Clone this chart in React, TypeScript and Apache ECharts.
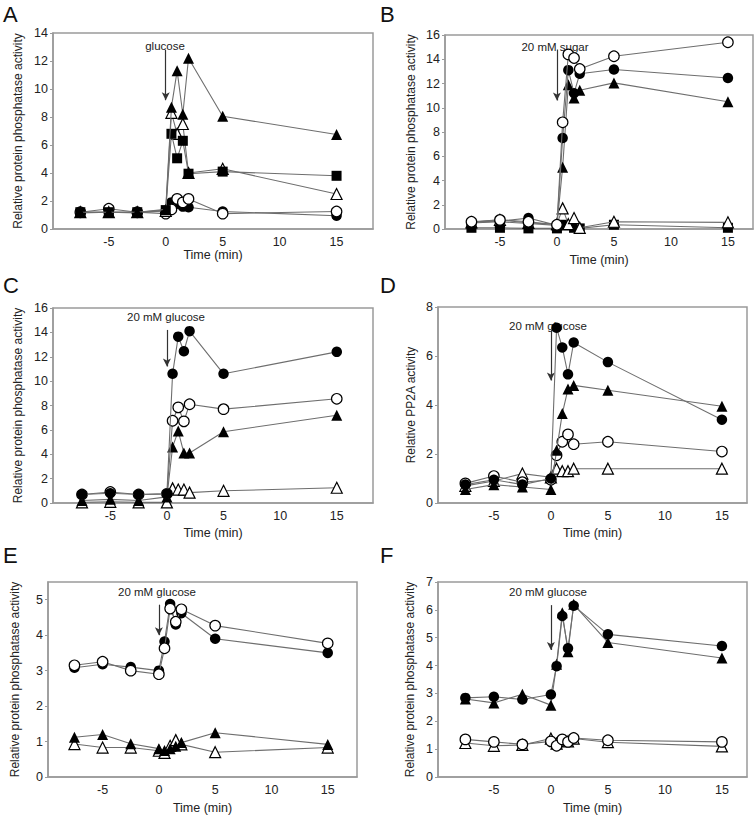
import React, { useEffect, useRef } from "react";
import * as echarts from "echarts";

// ---- data ----
const times = [-7.5, -5, -2.5, 0, 0.5, 1, 1.5, 2, 5, 15];
const xTickValues = [-5, 0, 5, 10, 15];

// Panel A
const aFilledTri = [1.2, 1.2, 1.2, 1.4, 8.7, 11.3, 8.2, 12.2, 8.05, 6.75];
const aOpenTri = [1.2, 1.2, 1.2, 1.3, 8.3, 6.8, 7.5, 4.0, 4.3, 2.5];
const aSquare = [1.2, 1.2, 1.2, 1.35, 6.8, 5.05, 6.3, 3.95, 4.1, 3.8];
const aOpenCircle = [1.2, 1.45, 1.2, 1.1, 1.4, 2.15, 1.9, 2.15, 1.1, 1.25];
const aFilledCircle = [1.15, 1.2, 1.15, 1.3, 1.9, 1.8, 1.6, 1.55, 1.25, 0.95];
const aYTicks = [0, 2, 4, 6, 8, 10, 12, 14];

// Panel B
const bOpenCircle = [0.6, 0.75, 0.6, 0.35, 8.8, 14.4, 14.1, 13.2, 14.25, 15.4];
const bFilledCircle = [0.55, 0.65, 0.9, 0.3, 7.5, 13.1, 11.2, 12.8, 13.15, 12.45];
const bFilledTri = [0.5, 0.6, 0.45, 0.3, 5.1, 11.9, 10.8, 11.45, 12.05, 10.5];
const bOpenTri = [0.55, 0.75, 0.5, 0.4, 1.7, 0.4, 0.9, 0.1, 0.6, 0.55];
const bSquare = [0.1, 0.1, 0.05, 0.05, 0.35, 0.3, 0.1, 0.05, 0.35, 0.1];
const bYTicks = [0, 2, 4, 6, 8, 10, 12, 14, 16];

// Panel C
const cFilledCircle = [0.7, 0.8, 0.7, 0.75, 10.6, 13.65, 12.45, 14.1, 10.6, 12.4];
const cOpenCircle = [0.7, 0.9, 0.7, 0.75, 6.75, 7.85, 6.7, 8.1, 7.7, 8.55];
const cFilledTri = [0.2, 0.3, 0.2, 0.5, 4.6, 5.9, 4.1, 4.1, 5.85, 7.2];
const cOpenTri = [0.05, 0.1, 0.05, 0.05, 1.2, 1.1, 1.1, 0.85, 1.0, 1.25];
const cYTicks = [0, 2, 4, 6, 8, 10, 12, 14, 16];

// Panel D
const dFilledCircle = [0.75, 0.95, 0.75, 1.0, 7.15, 6.35, 5.25, 6.55, 5.75, 3.4];
const dFilledTri = [0.55, 0.75, 0.65, 0.55, 2.15, 3.65, 4.65, 4.8, 4.6, 3.95];
const dOpenCircle = [0.8, 1.1, 0.85, 0.95, 1.95, 2.5, 2.8, 2.4, 2.5, 2.1];
const dOpenTri = [0.7, 0.9, 1.2, 1.05, 1.4, 1.3, 1.3, 1.4, 1.4, 1.4];
const dYTicks = [0, 2, 4, 6, 8];

// Panel E
const eFilledCircle = [3.08, 3.18, 3.1, 3.0, 3.82, 4.88, 4.3, 4.62, 3.9, 3.5];
const eOpenCircle = [3.15, 3.25, 3.0, 2.9, 3.63, 4.75, 4.38, 4.73, 4.27, 3.77];
const eFilledTri = [1.12, 1.2, 0.94, 0.8, 0.75, 0.8, 0.87, 0.97, 1.25, 0.92];
const eOpenTri = [0.93, 0.83, 0.83, 0.74, 0.68, 0.88, 1.04, 0.92, 0.7, 0.83];
const eYTicks = [0, 1, 2, 3, 4, 5];

// Panel F
const fFilledCircle = [2.84, 2.88, 2.78, 2.96, 3.98, 5.78, 4.62, 6.15, 5.12, 4.7];
const fFilledTri = [2.8, 2.66, 2.97, 2.58, 4.05, 5.9, 4.5, 6.2, 4.83, 4.27];
const fOpenCircle = [1.35, 1.26, 1.17, 1.28, 1.12, 1.35, 1.26, 1.4, 1.32, 1.26];
const fOpenTri = [1.22, 1.12, 1.15, 1.38, 1.2, 1.3, 1.28, 1.38, 1.25, 1.1];
const fYTicks = [0, 1, 2, 3, 4, 5, 6, 7];

// ---- styling / layout ----
const FONT = "Liberation Sans, Arial, Helvetica, sans-serif";
const LINE_COLOR = "#6e6e6e";
const BOX_COLOR = "#9a9a9a";

type Marker = "fc" | "oc" | "ft" | "ot" | "fs";

function markerStyle(m: Marker) {
  const filled = m === "fc" || m === "ft" || m === "fs";
  const symbol = m === "fc" || m === "oc" ? "circle" : m === "fs" ? "rect" : "triangle";
  const size = symbol === "circle" ? 10.5 : symbol === "rect" ? 10 : 11;
  return {
    symbol,
    symbolSize: size,
    itemStyle: {
      color: filled ? "#000" : "#fff",
      borderColor: "#000",
      borderWidth: filled ? 0 : 1.2,
    },
  };
}

const panels = [
  {
    letter: "A", letterPos: [3, 3],
    grid: { left: 53, top: 33, width: 320, height: 196 },
    xMin: -9.9, xMax: 18.2, yMax: 14, yTicks: aYTicks, xNameGap: 17,
    yName: "Relative protein phosphatase activity", yNameGap: 29,
    note: "glucose", notePos: [165, 46], arrow: [12.8, 9.2],
    series: [
      { m: "fc" as Marker, d: aFilledCircle },
      { m: "oc" as Marker, d: aOpenCircle },
      { m: "ot" as Marker, d: aOpenTri },
      { m: "fs" as Marker, d: aSquare },
      { m: "ft" as Marker, d: aFilledTri },
    ],
  },
  {
    letter: "B", letterPos: [380, 3],
    grid: { left: 445, top: 35, width: 308, height: 194 },
    xMin: -9.82, xMax: 17.2, yMax: 16, yTicks: bYTicks, xNameGap: 24,
    yName: "Relative protein phosphatase activity", yNameGap: 28,
    note: "20 mM sugar", notePos: [555, 47], arrow: [14.8, 10.6],
    series: [
      { m: "fs" as Marker, d: bSquare },
      { m: "ot" as Marker, d: bOpenTri },
      { m: "ft" as Marker, d: bFilledTri },
      { m: "fc" as Marker, d: bFilledCircle },
      { m: "oc" as Marker, d: bOpenCircle },
    ],
  },
  {
    letter: "C", letterPos: [3, 274],
    grid: { left: 53, top: 308, width: 320, height: 195 },
    xMin: -10.06, xMax: 18.2, yMax: 16, yTicks: cYTicks, xNameGap: 23,
    yName: "Relative protein phosphatase activity", yNameGap: 29,
    note: "20 mM glucose", notePos: [166, 317], arrow: [14.2, 11.2],
    series: [
      { m: "ot" as Marker, d: cOpenTri },
      { m: "ft" as Marker, d: cFilledTri },
      { m: "oc" as Marker, d: cOpenCircle },
      { m: "fc" as Marker, d: cFilledCircle },
    ],
  },
  {
    letter: "D", letterPos: [380, 274],
    grid: { left: 438, top: 307, width: 309, height: 196 },
    xMin: -9.9, xMax: 17.2, yMax: 8, yTicks: dYTicks, xNameGap: 23,
    yName: "Relative PP2A activity", yNameGap: 21,
    note: "20 mM glucose", notePos: [548, 326], arrow: [7.06, 5.0],
    series: [
      { m: "ot" as Marker, d: dOpenTri },
      { m: "oc" as Marker, d: dOpenCircle },
      { m: "ft" as Marker, d: dFilledTri },
      { m: "fc" as Marker, d: dFilledCircle },
    ],
  },
  {
    letter: "E", letterPos: [3, 544],
    grid: { left: 48, top: 582, width: 309, height: 195 },
    xMin: -9.85, xMax: 17.6, yMax: 5.5, yTicks: eYTicks, xNameGap: 24,
    yName: "Relative protein phosphatase activity", yNameGap: 27,
    note: "20 mM glucose", notePos: [157, 592], arrow: [4.86, 4.0],
    series: [
      { m: "ot" as Marker, d: eOpenTri },
      { m: "ft" as Marker, d: eFilledTri },
      { m: "fc" as Marker, d: eFilledCircle },
      { m: "oc" as Marker, d: eOpenCircle },
    ],
  },
  {
    letter: "F", letterPos: [380, 544],
    grid: { left: 438, top: 582, width: 309, height: 195 },
    xMin: -9.9, xMax: 17.2, yMax: 7, yTicks: fYTicks, xNameGap: 24,
    yName: "Relative protein phosphatase activity", yNameGap: 22,
    note: "20 mM glucose", notePos: [548, 592], arrow: [6.17, 4.56],
    series: [
      { m: "ot" as Marker, d: fOpenTri },
      { m: "oc" as Marker, d: fOpenCircle },
      { m: "ft" as Marker, d: fFilledTri },
      { m: "fc" as Marker, d: fFilledCircle },
    ],
  },
];

function buildOption() {
  const grid: any[] = [];
  const xAxis: any[] = [];
  const yAxis: any[] = [];
  const series: any[] = [];
  const graphic: any[] = [];

  panels.forEach((p, i) => {
    grid.push({
      ...p.grid,
      show: true,
      borderColor: BOX_COLOR,
      borderWidth: 1.5,
      backgroundColor: "transparent",
      containLabel: false,
    });
    xAxis.push({
      type: "value",
      gridIndex: i,
      min: p.xMin,
      max: p.xMax,
      name: "Time (min)",
      nameLocation: "middle",
      nameGap: p.xNameGap,
      nameTextStyle: { fontFamily: FONT, fontSize: 12.5, color: "#222" },
      axisLine: { show: true, onZero: false, lineStyle: { color: BOX_COLOR, width: 1.5 } },
      axisTick: { show: false, customValues: xTickValues },
      axisLabel: { customValues: xTickValues, fontFamily: FONT, fontSize: 12.5, color: "#222", margin: 6 },
      splitLine: { show: false },
    });
    yAxis.push({
      type: "value",
      gridIndex: i,
      min: 0,
      max: p.yMax,
      name: p.yName,
      nameLocation: "middle",
      nameGap: p.yNameGap,
      nameTextStyle: { fontFamily: FONT, fontSize: 12, color: "#222" },
      axisLine: { show: true, onZero: false, lineStyle: { color: BOX_COLOR, width: 1.5 } },
      axisTick: { show: true, length: 3, customValues: p.yTicks, lineStyle: { color: BOX_COLOR } },
      axisLabel: { customValues: p.yTicks, fontFamily: FONT, fontSize: 12.5, color: "#222", margin: 5 },
      splitLine: { show: false },
    });
    p.series.forEach((s, j) => {
      const ms = markerStyle(s.m);
      const item: any = {
        type: "line",
        xAxisIndex: i,
        yAxisIndex: i,
        data: times.map((t, k) => [t, s.d[k]]),
        ...ms,
        showAllSymbol: true,
        lineStyle: { color: LINE_COLOR, width: 1.1 },
        z: 2 + j,
        silent: true,
      };
      if (j === 0) {
        item.markLine = {
          silent: true,
          symbol: ["none", "arrow"],
          symbolSize: [6, 8],
          label: { show: false },
          lineStyle: { color: "#333", width: 1.2, type: "solid" },
          data: [[{ coord: [0, p.arrow[0]] }, { coord: [0, p.arrow[1]] }]],
        };
      }
      series.push(item);
    });
    graphic.push({
      type: "text",
      left: p.letterPos[0],
      top: p.letterPos[1],
      style: { text: p.letter, font: `22px ${FONT}`, fill: "#111" },
    });
    graphic.push({
      type: "text",
      x: p.notePos[0],
      y: p.notePos[1],
      style: {
        text: p.note,
        font: `11.5px ${FONT}`,
        fill: "#222",
        textAlign: "center",
        textVerticalAlign: "middle",
      },
    });
  });

  return {
    animation: false,
    backgroundColor: "#fff",
    grid,
    xAxis,
    yAxis,
    series,
    graphic,
  };
}

export default function App() {
  const ref = useRef<HTMLDivElement>(null);
  useEffect(() => {
    if (!ref.current) return;
    const chart = echarts.init(ref.current, undefined, { renderer: "svg" });
    chart.setOption(buildOption() as any);
    return () => chart.dispose();
  }, []);
  return (
    <div
      ref={ref}
      style={{ position: "absolute", left: 0, top: 0, width: 755, height: 815, background: "#fff" }}
    />
  );
}
